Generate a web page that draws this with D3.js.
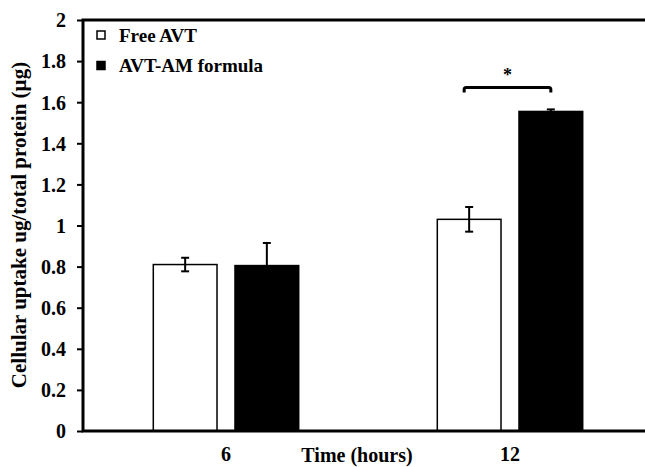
<!DOCTYPE html>
<html>
<head>
<meta charset="utf-8">
<script src="https://cdn.jsdelivr.net/npm/d3@7"></script>
<style>
  body { margin: 0; background: #fff; }
  svg { display: block; font-family: "Liberation Serif", "Times New Roman", serif; font-weight: bold; }
</style>
</head>
<body>
<svg id="chart"></svg>
<script>
// data
const timePoints = ["6", "12"];
const seriesNames = ["Free AVT", "AVT-AM formula"];
const seriesColors = ["#fff", "#000"];
const freeAVT = [0.81, 1.03];
const freeAVTErr = [0.033, 0.06];
const avtAM = [0.805, 1.555];
const avtAMErr = [0.11, 0.01];
const yTicks = [0, 0.2, 0.4, 0.6, 0.8, 1, 1.2, 1.4, 1.6, 1.8, 2];

const width = 645;
const height = 467;

const svg = d3.select("#chart")
    .attr("width", width)
    .attr("height", height);

// scales
const x = d3.scaleBand()
    .domain(timePoints)
    .range([84, 652]);

const xInner = d3.scaleBand()
    .domain(seriesNames)
    .range([x.bandwidth() * 0.244, x.bandwidth() * 0.756])
    .paddingInner(0.22);

const y = d3.scaleLinear()
    .domain([0, 2])
    .range([431, 20]);

const rows = [];
timePoints.forEach((t, i) => {
    rows.push({ time: t, series: seriesNames[0], value: freeAVT[i], err: freeAVTErr[i], color: seriesColors[0] });
    rows.push({ time: t, series: seriesNames[1], value: avtAM[i], err: avtAMErr[i], color: seriesColors[1] });
});

// bars
svg.selectAll(".bar")
    .data(rows)
    .enter()
    .append("rect")
    .attr("class", "bar")
    .attr("x", d => x(d.time) + xInner(d.series))
    .attr("y", d => y(d.value))
    .attr("width", xInner.bandwidth())
    .attr("height", d => y(0) - y(d.value))
    .style("fill", d => d.color)
    .style("stroke", "#000")
    .style("stroke-width", 1.5);

// error bars
const errG = svg.selectAll(".err")
    .data(rows)
    .enter()
    .append("g")
    .attr("class", "err")
    .attr("transform", d => `translate(${x(d.time) + xInner(d.series) + xInner.bandwidth() / 2},0)`);

errG.append("line")
    .attr("y1", d => y(d.value + d.err))
    .attr("y2", d => y(d.value - d.err))
    .style("stroke", "#000")
    .style("stroke-width", 2);

errG.append("line")
    .attr("x1", -4).attr("x2", 4)
    .attr("y1", d => y(d.value + d.err))
    .attr("y2", d => y(d.value + d.err))
    .style("stroke", "#000")
    .style("stroke-width", 2);

errG.append("line")
    .attr("x1", -4).attr("x2", 4)
    .attr("y1", d => y(d.value - d.err))
    .attr("y2", d => y(d.value - d.err))
    .style("stroke", d => d.color === "#000" ? "none" : "#000")
    .style("stroke-width", 2);

// y axis
const yAxis = svg.append("g")
    .attr("transform", `translate(${x.range()[0] - 1},0)`)
    .call(d3.axisLeft(y).tickValues(yTicks).tickSize(6).tickPadding(11).tickFormat(d3.format("")));
yAxis.select(".domain").remove();
yAxis.selectAll(".tick line").style("stroke-width", 2);
yAxis.selectAll(".tick text")
    .style("font-size", "20px")
    .style("font-family", "Liberation Serif")
    .style("font-weight", "bold")
    .attr("dy", "0.34em");

// frame: left, top, bottom
const left = x.range()[0] - 1;
svg.append("path")
    .attr("d", `M${width + 10},${y(2)}H${left}V${y(0)}H${width + 10}`)
    .style("fill", "none")
    .style("stroke", "#000")
    .style("stroke-width", 3);

// x labels
svg.selectAll(".x-label")
    .data(timePoints)
    .enter()
    .append("text")
    .attr("class", "x-label")
    .attr("x", d => x(d) + x.bandwidth() / 2)
    .attr("y", 461)
    .attr("text-anchor", "middle")
    .style("font-size", "20px")
    .text(d => d);

svg.append("text")
    .attr("x", 357)
    .attr("y", 462)
    .attr("text-anchor", "middle")
    .style("font-size", "20px")
    .text("Time (hours)");

// y title
svg.append("text")
    .attr("transform", "translate(26,225) rotate(-90)")
    .attr("text-anchor", "middle")
    .style("font-size", "21px")
    .text("Cellular uptake ug/total protein (µg)");

// legend
const legend = svg.selectAll(".legend")
    .data(seriesNames)
    .enter()
    .append("g")
    .attr("class", "legend")
    .attr("transform", (d, i) => `translate(97,${31 + i * 30.5})`);

legend.append("rect")
    .attr("width", 8)
    .attr("height", 8)
    .style("fill", (d, i) => seriesColors[i])
    .style("stroke", "#000")
    .style("stroke-width", 1.5);

legend.append("text")
    .attr("x", 22)
    .attr("y", 10.5)
    .style("font-size", "19px")
    .text(d => d);

// significance bracket
const bx1 = x("12") + xInner(seriesNames[0]) + xInner.bandwidth() / 2 - 5;
const bx2 = x("12") + xInner(seriesNames[1]) + xInner.bandwidth() / 2;
const by = 87.5;
svg.append("path")
    .attr("d", `M${bx1},${by + 5}V${by + 2}Q${bx1},${by} ${bx1 + 2},${by}H${bx2 - 2}Q${bx2},${by} ${bx2},${by + 2}V${by + 5}`)
    .style("fill", "none")
    .style("stroke", "#000")
    .style("stroke-width", 3);

svg.append("text")
    .attr("x", (bx1 + bx2) / 2)
    .attr("y", 81)
    .attr("text-anchor", "middle")
    .style("font-size", "18px")
    .text("*");
</script>
</body>
</html>
